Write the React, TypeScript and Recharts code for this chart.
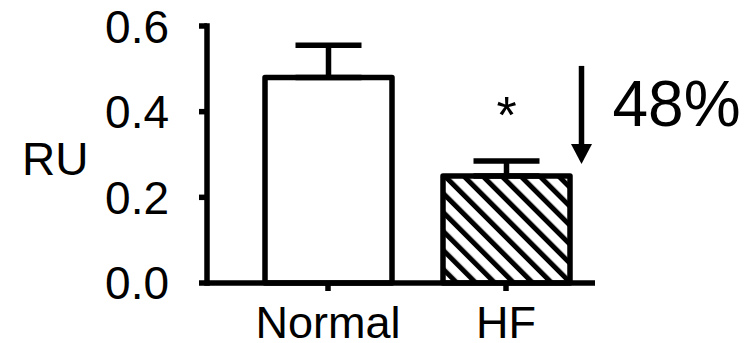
import React from "react";
import { ComposedChart, Bar, XAxis, YAxis, ErrorBar, LabelList, Cell } from "recharts";

// values
const groups = ["Normal", "HF"];
const meanRU = [0.48, 0.25];
const semRU = [0.075, 0.035];
const marks = ["", "*"];
const yTicks = [0, 0.2, 0.4, 0.6];
const reductionLabel = "48%";

const FONT = "'Liberation Sans', Arial, sans-serif";
const LINE = 5.5;

const data = groups.map((group, i) => ({
  group,
  ru: meanRU[i],
  err: [0, semRU[i]],
  mark: marks[i],
}));

const fills = ["#ffffff", "url(#hatch)"];

// asterisk + down arrow with the percent drop, placed off the HF bar
const SignificanceMark = (props: any) => {
  const { value } = props;
  const x = props.x ?? props.viewBox?.x;
  const y = props.y ?? props.viewBox?.y;
  const width = props.width ?? props.viewBox?.width;
  if (!value) return null;
  const cx = x + width / 2;
  const ax = x + width + 11.5;
  return (
    <g>
      <text x={cx} y={y - 43} textAnchor="middle" fontSize={52} fontFamily={FONT} fill="#000">
        {value}
      </text>
      <line x1={ax} y1={y - 110} x2={ax} y2={y - 30} stroke="#000" strokeWidth={LINE} />
      <polygon points={`${ax - 10.5},${y - 32} ${ax + 10.5},${y - 32} ${ax},${y - 12}`} fill="#000" />
      <text x={ax + 31} y={y - 50} fontSize={64} fontFamily={FONT} fill="#000">
        {reductionLabel}
      </text>
    </g>
  );
};

const App: React.FC = () => {
  return (
    <div style={{ position: "absolute", left: 0, top: 0, background: "#fff" }}>
      <ComposedChart
        width={756}
        height={343}
        data={data}
        margin={{ top: 26, right: 161, bottom: 0, left: 0 }}
      >
        <defs>
          <pattern
            id="hatch"
            patternUnits="userSpaceOnUse"
            width={13.4}
            height={13.4}
            patternTransform="rotate(-45)"
          >
            <rect width={13.4} height={13.4} fill="#fff" />
            <rect width={5} height={13.4} fill="#000" />
          </pattern>
        </defs>
        <XAxis
          dataKey="group"
          height={60}
          padding={{ left: 32, right: 0 }}
          tickSize={8}
          tickMargin={15}
          axisLine={{ stroke: "#000", strokeWidth: LINE }}
          tickLine={{ stroke: "#000", strokeWidth: LINE }}
          tick={{ fontSize: 45, fontFamily: FONT, fill: "#000" }}
        />
        <YAxis
          width={207}
          domain={[0, 0.6]}
          ticks={yTicks}
          tickFormatter={(v: number) => v.toFixed(1)}
          tickSize={8}
          tickMargin={30}
          axisLine={{ stroke: "#000", strokeWidth: LINE, strokeLinecap: "square" }}
          tickLine={{ stroke: "#000", strokeWidth: LINE }}
          tick={{ fontSize: 46, fontFamily: FONT, fill: "#000" }}
          label={{
            value: "RU",
            content: (p: any) => {
              const vb = p.viewBox || { x: 0, y: 26, width: 207, height: 257 };
              return (
                <text x={vb.x + 22} y={vb.y + vb.height / 2 + 20} fontSize={46} fontFamily={FONT} fill="#000">
                  RU
                </text>
              );
            },
          }}
        />
        <Bar
          dataKey="ru"
          barSize={127}
          stroke="#000"
          strokeWidth={LINE}
          strokeLinejoin="round"
          isAnimationActive={false}
        >
          {data.map((_, i) => (
            <Cell key={`cell-${i}`} fill={fills[i]} />
          ))}
          <ErrorBar
            dataKey="err"
            direction="y"
            width={33}
            stroke="#000"
            strokeWidth={LINE}
            isAnimationActive={false}
          />
          <LabelList dataKey="mark" content={SignificanceMark} />
        </Bar>
      </ComposedChart>
    </div>
  );
};

export default App;
